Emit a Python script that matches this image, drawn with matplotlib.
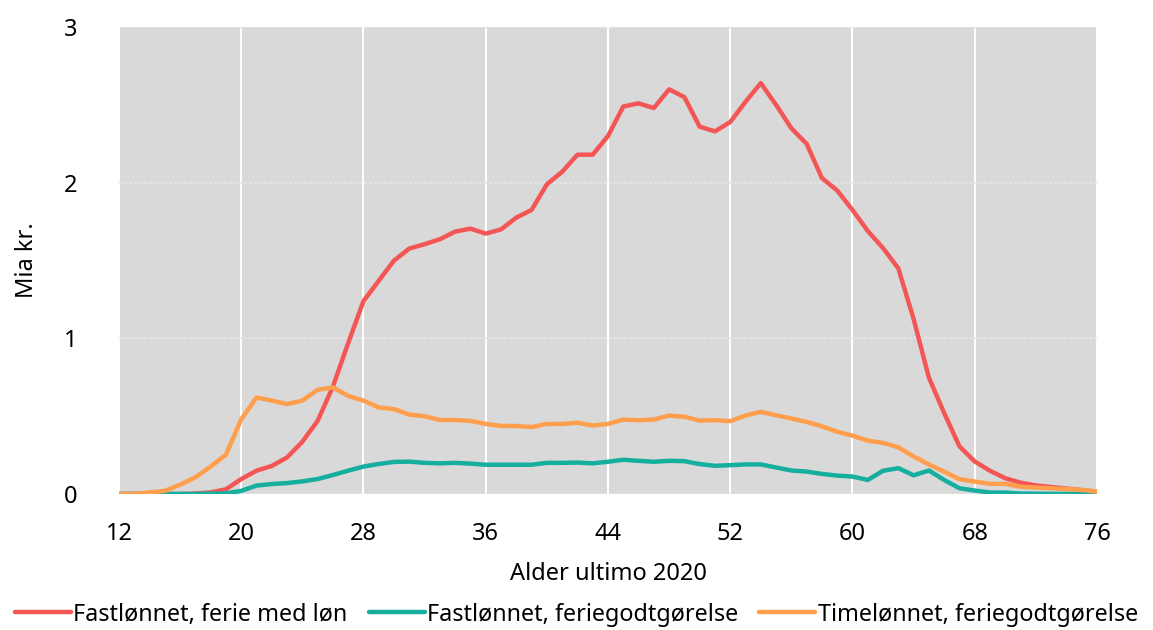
"""Feriepenger etter alder, 2020 — linjediagram."""

import matplotlib
matplotlib.use("Agg")
import matplotlib.pyplot as plt

plt.rcParams["font.family"] = ["Noto Sans", "DejaVu Sans"]

ages = list(range(12, 77))

fast_ferie_med_lon = [
    0.0, 0.0, 0.0, 0.0, 0.0, 0.003, 0.01, 0.03, 0.096, 0.15,
    0.18, 0.235, 0.336, 0.47, 0.69, 0.97, 1.24, 1.37, 1.50, 1.577,
    1.605, 1.637, 1.686, 1.705, 1.673, 1.70, 1.776, 1.825, 1.99, 2.07,
    2.18, 2.18, 2.30, 2.49, 2.51, 2.48, 2.60, 2.55, 2.36, 2.33,
    2.39, 2.52, 2.64, 2.50, 2.35, 2.25, 2.03, 1.95, 1.825, 1.69,
    1.58, 1.45, 1.125, 0.748, 0.52, 0.306, 0.209, 0.149, 0.101, 0.073,
    0.055, 0.045, 0.035, 0.025, 0.015,
]

fast_feriegodtgjorelse = [
    0.0, 0.0, 0.0, 0.0, 0.0, 0.0, 0.002, 0.004, 0.02, 0.054,
    0.064, 0.07, 0.081, 0.096, 0.122, 0.15, 0.176, 0.193, 0.206, 0.208,
    0.20, 0.197, 0.20, 0.195, 0.188, 0.188, 0.188, 0.188, 0.20, 0.20,
    0.202, 0.197, 0.207, 0.22, 0.213, 0.207, 0.213, 0.211, 0.192, 0.181,
    0.185, 0.19, 0.19, 0.17, 0.151, 0.144, 0.129, 0.118, 0.112, 0.09,
    0.149, 0.166, 0.12, 0.151, 0.09, 0.037, 0.022, 0.009, 0.009, 0.003,
    0.002, 0.001, 0.001, 0.0, 0.0,
]

time_feriegodtgjorelse = [
    0.0, 0.0, 0.01, 0.02, 0.06, 0.107, 0.176, 0.253, 0.48, 0.62,
    0.60, 0.578, 0.60, 0.67, 0.685, 0.63, 0.60, 0.556, 0.545, 0.51,
    0.50, 0.475, 0.475, 0.47, 0.45, 0.437, 0.437, 0.43, 0.45, 0.45,
    0.458, 0.44, 0.45, 0.478, 0.474, 0.478, 0.504, 0.496, 0.472, 0.474,
    0.468, 0.504, 0.528, 0.506, 0.485, 0.463, 0.435, 0.40, 0.375, 0.343,
    0.328, 0.30, 0.241, 0.19, 0.144, 0.095, 0.08, 0.065, 0.065, 0.047,
    0.041, 0.037, 0.032, 0.026, 0.015,
]

labels = [
    "Fastlønnet, ferie med løn",
    "Fastlønnet, feriegodtgørelse",
    "Timelønnet, feriegodtgørelse",
]
colors = ["#F45656", "#16AE9E", "#FF9E4C"]

fig = plt.figure(figsize=(11.53, 6.30), dpi=100)
ax = fig.add_axes([0.1032, 0.2159, 0.8482, 0.7411])

ax.set_facecolor("#D9D9D9")
for series, label, color in zip(
    [fast_ferie_med_lon, fast_feriegodtgjorelse, time_feriegodtgjorelse], labels, colors
):
    ax.plot(ages, series, color=color, lw=3.2, label=label, solid_capstyle="round", zorder=3)

ax.set_xlim(12, 76)
ax.set_ylim(0, 3)
ax.set_xticks(range(12, 77, 8))
ax.set_yticks([0, 1, 2, 3])

# vertical white grid, faint dotted horizontal grid
ax.grid(axis="x", color="white", lw=1.5, zorder=1)
ax.grid(axis="y", color="#E6E6E6", lw=1.2, ls=(0, (2, 1)), zorder=1)

for s in ax.spines.values():
    s.set_visible(False)
ax.tick_params(length=0, labelsize=17, colors="black")
ax.tick_params(axis="x", pad=20)
ax.tick_params(axis="y", pad=30)

ax.set_xlabel("Alder ultimo 2020", fontsize=17, labelpad=12)
ax.set_ylabel("Mia kr.", fontsize=17, labelpad=18)

fig.legend(
    loc="lower center", bbox_to_anchor=(0.5, -0.028), ncol=3, frameon=False,
    fontsize=16.8, handlelength=2.4, handletextpad=0.1, columnspacing=0.9,
)

fig.savefig("out.png", dpi=100)
